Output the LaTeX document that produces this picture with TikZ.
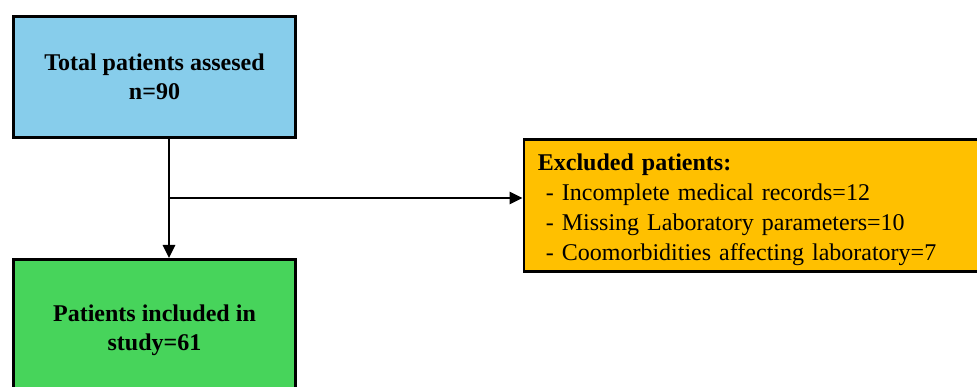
\documentclass[tikz,border=0pt]{standalone}
\usepackage{fontspec}
\setmainfont{Liberation Serif}
\usepackage{tikz}
\usetikzlibrary{arrows.meta, positioning}

\definecolor{boxblue}{HTML}{87CDEB}
\definecolor{boxgreen}{HTML}{47D45B}
\definecolor{boxgold}{HTML}{FFC000}

\begin{document}
\begin{tikzpicture}[x=1pt, y=-1pt,
      >={Triangle[length=13pt, width=12pt]},
      blk/.style={draw, line width=2.8pt, minimum width=282pt, minimum height=121pt,
                  font=\fontsize{24}{29}\selectfont\bfseries, align=center, inner sep=0pt},
      note/.style={draw, line width=2.8pt, minimum height=132pt, text width=442pt,
                   inner xsep=14pt, font=\fontsize{24}{30}\selectfont, align=left},
      arr/.style={->, line width=2.8pt}]

    \useasboundingbox (0,0) rectangle (977,387);

    % ---- Layout ----
    \def\lx{169}     % trunk x
    \def\ly{198}     % branch y

    % ---- Boxes ----
    \node[blk, fill=boxblue] (total) at (154.5, 77) {Total patients assesed\\n=90};
    \node[blk, fill=boxgreen, minimum height=142pt] (included) at (154.5, 330.4)
          {Patients included in\\study=61};
    \node[note, fill=boxgold, anchor=west] (excluded) at (522.5, 205.5)
          {\rule{0pt}{26pt}\textbf{Excluded patients:}\\
           \ - Incomplete medical records=12\\
           \ - Missing Laboratory parameters=10\\
           \ - Coomorbidities affecting laboratory=7};

    % ---- Connectors ----
    \coordinate (branch) at (\lx, \ly);
    \draw[arr] (total.south -| branch) -- (included.north -| branch);
    \draw[arr] (branch) -- (branch -| excluded.west);

\end{tikzpicture}
\end{document}
